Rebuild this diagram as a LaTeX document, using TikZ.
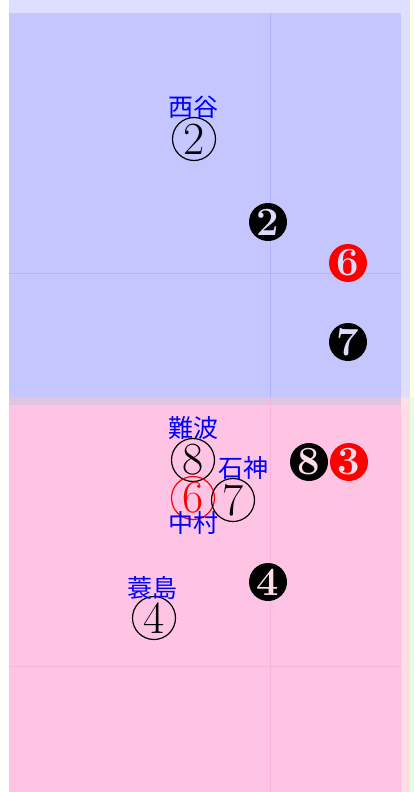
\documentclass[tikz,border=0pt]{standalone}
\usepackage{fontspec}
\newfontfamily\jpfont{Noto Sans CJK JP}
\definecolor{outerblue}{HTML}{DEDEFF}
\definecolor{innerblue}{HTML}{C6C6FF}
\definecolor{innerpink}{HTML}{FFC4E4}
\definecolor{outerpink}{HTML}{FFDDE2}
\definecolor{mixband}{HTML}{DEC6E2}
\definecolor{edgeyellow}{HTML}{FFFFE6}
\definecolor{edgegreen}{HTML}{E2FFE2}
\definecolor{holeblue}{HTML}{DCDCFF}
\definecolor{holepink}{HTML}{FFDCEC}
\tikzset{
	player/.style={circle, draw, line width=1.2pt, inner sep=0pt,
		minimum size=43pt, font=\fontsize{46}{46}\selectfont},
	runner/.style={circle, fill=black, inner sep=0pt,
		minimum size=38pt, font=\fontsize{40}{40}\selectfont\bfseries},
	fielder/.style={text=blue, inner sep=0pt,
		font=\jpfont\fontsize{25}{25}\selectfont},
}
\begin{document}
\begin{tikzpicture}[x=1pt, y=-1pt]
	\useasboundingbox (0, 0) rectangle (414, 792);
	\fill [white] (0, 0) rectangle (414, 792);

	% areas
	\fill [outerblue] (9, 0) rectangle (410, 397);
	\fill [outerpink] (9, 397) rectangle (410, 792);
	\fill [edgeyellow] (410, 0) rectangle (414, 397);
	\fill [edgegreen] (410, 397) rectangle (414, 792);
	\fill [innerblue] (9, 13) rectangle (401, 397);
	\fill [innerpink] (9, 397) rectangle (401, 792);
	\fill [mixband] (9, 397) rectangle (401, 405);

	% grid
	\draw [blue!30, line width=0.7pt] (270, 13) -- (270, 397)
		(9, 273) -- (401, 273);
	\draw [magenta!30, line width=0.7pt] (270, 397) -- (270, 792)
		(9, 666) -- (401, 666);

	% fielders
	\node [player] (p2) at (194, 139) {2};
	\node [player] (p8) at (193, 460) {8};
	\node [player, draw=red, text=red] (p6) at (193, 498) {6};
	\node [player] (p7) at (233, 500) {7};
	\node [player] (p4) at (154, 618) {4};

	\node [fielder] (nishitani) at (193, 107) {西谷};
	\node [fielder] (nanba) at (193, 428) {難波};
	\node [fielder] (ishigami) at (243, 468) {石神};
	\node [fielder] (nakamura) at (193, 523) {中村};
	\node [fielder] (minoshima) at (152, 588) {蓑島};

	% runners
	\node [runner, text=holeblue] (r2) at (268, 222) {2};
	\node [runner, fill=red, text=holeblue] (r6) at (348, 263) {6};
	\node [runner, text=holeblue] (r7) at (348, 342) {7};
	\node [runner, text=holepink] (r8) at (309, 462) {8};
	\node [runner, fill=red, text=holepink] (r3) at (349, 462) {3};
	\node [runner, text=holepink] (r4) at (268, 582) {4};
\end{tikzpicture}
\end{document}
